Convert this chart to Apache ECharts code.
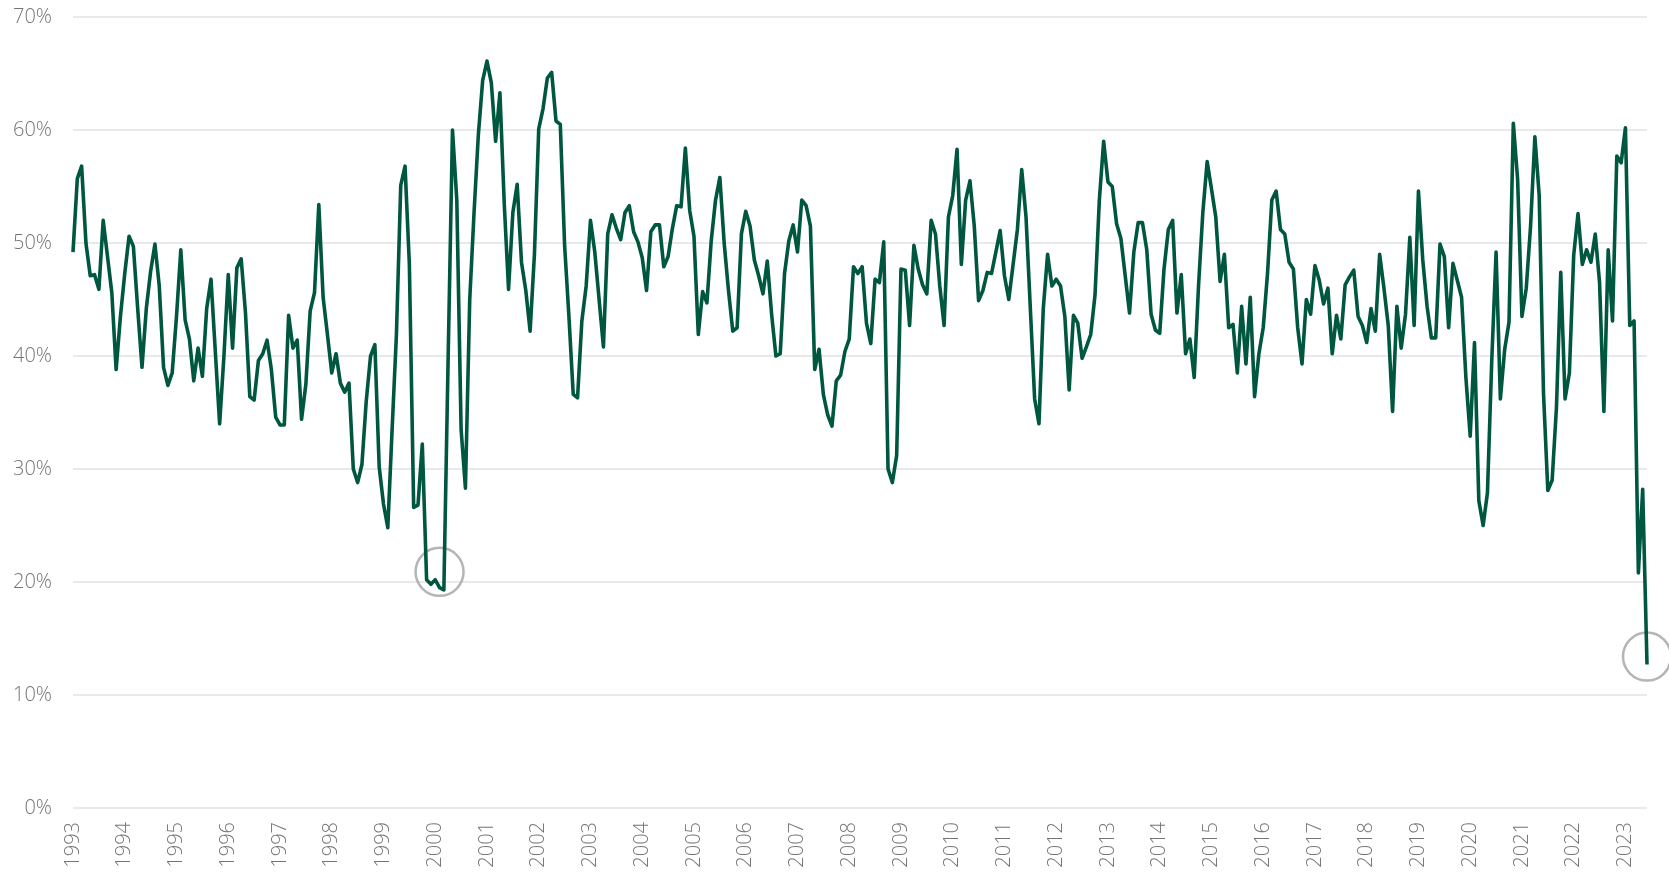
<!DOCTYPE html>
<html>
<head>
<meta charset="utf-8">
<script src="https://cdn.jsdelivr.net/npm/echarts@6/dist/echarts.min.js"></script>
<style>
  html, body { margin: 0; padding: 0; background: #fff; }
  #chart { width: 1669px; height: 872px; }
</style>
</head>
<body>
<div id="chart"></div>
<script>
// monthly series, Jan 1993 - Jun 2023 (percent)
const startYear = 1993
const values = [
  49.2, 55.7, 56.8, 50.0, 47.1, 47.2, 45.9, 52.0, 48.8, 45.6, 38.8, 43.5, // 1993
  47.3, 50.6, 49.7, 44.2, 39.0, 44.2, 47.5, 49.9, 46.2, 39.0, 37.4, 38.5, // 1994
  43.5, 49.4, 43.2, 41.5, 37.8, 40.7, 38.2, 44.2, 46.8, 40.4, 34.0, 40.0, // 1995
  47.2, 40.7, 47.8, 48.6, 43.8, 36.4, 36.1, 39.6, 40.2, 41.4, 38.8, 34.6, // 1996
  33.9, 33.9, 43.6, 40.7, 41.4, 34.4, 37.5, 44.0, 45.6, 53.4, 45.2, 41.9, // 1997
  38.5, 40.2, 37.6, 36.8, 37.6, 30.0, 28.8, 30.4, 36.0, 40.0, 41.0, 30.2, // 1998
  26.9, 24.8, 33.5, 41.9, 55.1, 56.8, 48.1, 26.6, 26.8, 32.2, 20.2, 19.8, // 1999
  20.2, 19.5, 19.3, 40.0, 60.0, 53.8, 33.5, 28.3, 45.0, 52.7, 59.6, 64.4, // 2000
  66.1, 64.2, 59.0, 63.3, 53.5, 45.9, 52.7, 55.2, 48.3, 45.8, 42.2, 49.0, // 2001
  60.1, 61.9, 64.6, 65.1, 60.8, 60.5, 49.8, 43.5, 36.6, 36.3, 43.1, 46.2, // 2002
  52.0, 49.2, 45.0, 40.8, 50.8, 52.5, 51.3, 50.3, 52.7, 53.3, 51.0, 50.1, // 2003
  48.7, 45.8, 51.0, 51.6, 51.6, 47.9, 48.8, 51.3, 53.3, 53.2, 58.4, 52.9, // 2004
  50.6, 41.9, 45.7, 44.7, 50.2, 53.8, 55.8, 50.0, 45.8, 42.2, 42.5, 50.8, // 2005
  52.8, 51.5, 48.5, 47.1, 45.5, 48.4, 43.7, 40.0, 40.2, 47.3, 50.2, 51.6, // 2006
  49.2, 53.8, 53.3, 51.5, 38.8, 40.6, 36.6, 34.8, 33.8, 37.8, 38.3, 40.4, // 2007
  41.5, 47.9, 47.3, 47.9, 42.9, 41.1, 46.8, 46.5, 50.1, 30.0, 28.8, 31.2, // 2008
  47.7, 47.6, 42.7, 49.8, 47.7, 46.3, 45.5, 52.0, 50.8, 46.2, 42.7, 52.3, // 2009
  54.2, 58.3, 48.1, 53.8, 55.5, 51.5, 44.9, 45.8, 47.4, 47.3, 49.2, 51.1, // 2010
  47.1, 45.0, 48.1, 51.2, 56.5, 52.3, 44.2, 36.2, 34.0, 44.2, 49.0, 46.2, // 2011
  46.8, 46.2, 43.5, 37.0, 43.6, 42.9, 39.8, 40.8, 41.9, 45.4, 53.8, 59.0, // 2012
  55.4, 55.0, 51.7, 50.4, 47.1, 43.8, 49.2, 51.8, 51.8, 49.4, 43.7, 42.3, // 2013
  42.0, 47.7, 51.2, 52.0, 43.8, 47.2, 40.2, 41.5, 38.1, 46.2, 52.7, 57.2, // 2014
  54.8, 52.3, 46.6, 49.0, 42.5, 42.8, 38.5, 44.4, 39.3, 45.2, 36.4, 40.2, // 2015
  42.5, 47.3, 53.8, 54.6, 51.2, 50.8, 48.3, 47.7, 42.5, 39.3, 45.0, 43.7, // 2016
  48.0, 46.7, 44.6, 46.0, 40.2, 43.6, 41.5, 46.3, 47.0, 47.6, 43.5, 42.7, // 2017
  41.2, 44.2, 42.2, 49.0, 46.0, 42.7, 35.1, 44.4, 40.7, 43.7, 50.5, 42.7, // 2018
  54.6, 48.5, 44.4, 41.6, 41.6, 49.9, 48.8, 42.5, 48.2, 46.7, 45.2, 38.1, // 2019
  32.9, 41.2, 27.2, 25.0, 27.9, 39.6, 49.2, 36.2, 40.6, 43.0, 60.6, 55.6, // 2020
  43.5, 46.0, 51.5, 59.4, 54.2, 36.7, 28.1, 29.0, 35.4, 47.4, 36.2, 38.5, // 2021
  48.9, 52.6, 48.1, 49.4, 48.3, 50.8, 46.5, 35.1, 49.4, 43.1, 57.7, 57.1, // 2022
  60.2, 42.7, 43.1, 20.8, 28.2, 12.7                                      // 2023
]

// month categories "YYYY-MM"
const months = values.map((v, i) => {
  const y = startYear + Math.floor(i / 12)
  const m = (i % 12) + 1
  return y + '-' + String(m).padStart(2, '0')
})

// highlighted lows (circled in the original)
const circled = [
  ['2000-02', 20.9],
  ['2023-06', 13.4]
]

const yTicks = { min: 0, max: 70, interval: 10 }

const chart = echarts.init(document.getElementById('chart'), null, { renderer: 'canvas' })

const labelStyle = {
  color: '#747474',
  fontFamily: '"Open Sans", "Noto Sans", sans-serif',
  fontWeight: 300,
  fontSize: 20
}

chart.setOption({
  animation: false,
  backgroundColor: '#ffffff',
  grid: { left: 73, right: 22, top: 17, bottom: 64, containLabel: false },
  xAxis: {
    type: 'category',
    data: months,
    boundaryGap: false,
    axisLine: { show: false },
    axisTick: { show: false },
    splitLine: { show: false },
    axisLabel: {
      ...labelStyle,
      rotate: 90,
      margin: 14,
      interval: 11,
      formatter: (v) => v.slice(0, 4)
    }
  },
  yAxis: {
    type: 'value',
    min: yTicks.min,
    max: yTicks.max,
    interval: yTicks.interval,
    axisLine: { show: false },
    axisTick: { show: false },
    splitLine: { lineStyle: { color: '#e2e2e2', width: 1.5 } },
    axisLabel: {
      ...labelStyle,
      margin: 21,
      formatter: '{value}%'
    }
  },
  series: [
    {
      type: 'line',
      data: values,
      showSymbol: false,
      lineStyle: { color: '#00573f', width: 3.6, join: 'round' },
      z: 3
    },
    {
      type: 'scatter',
      data: circled,
      symbol: 'circle',
      symbolSize: 48,
      clip: false,
      silent: true,
      itemStyle: { color: 'rgba(0,0,0,0)', borderColor: '#a3a3a3', borderWidth: 2.5 },
      z: 2
    }
  ]
})
</script>
</body>
</html>
